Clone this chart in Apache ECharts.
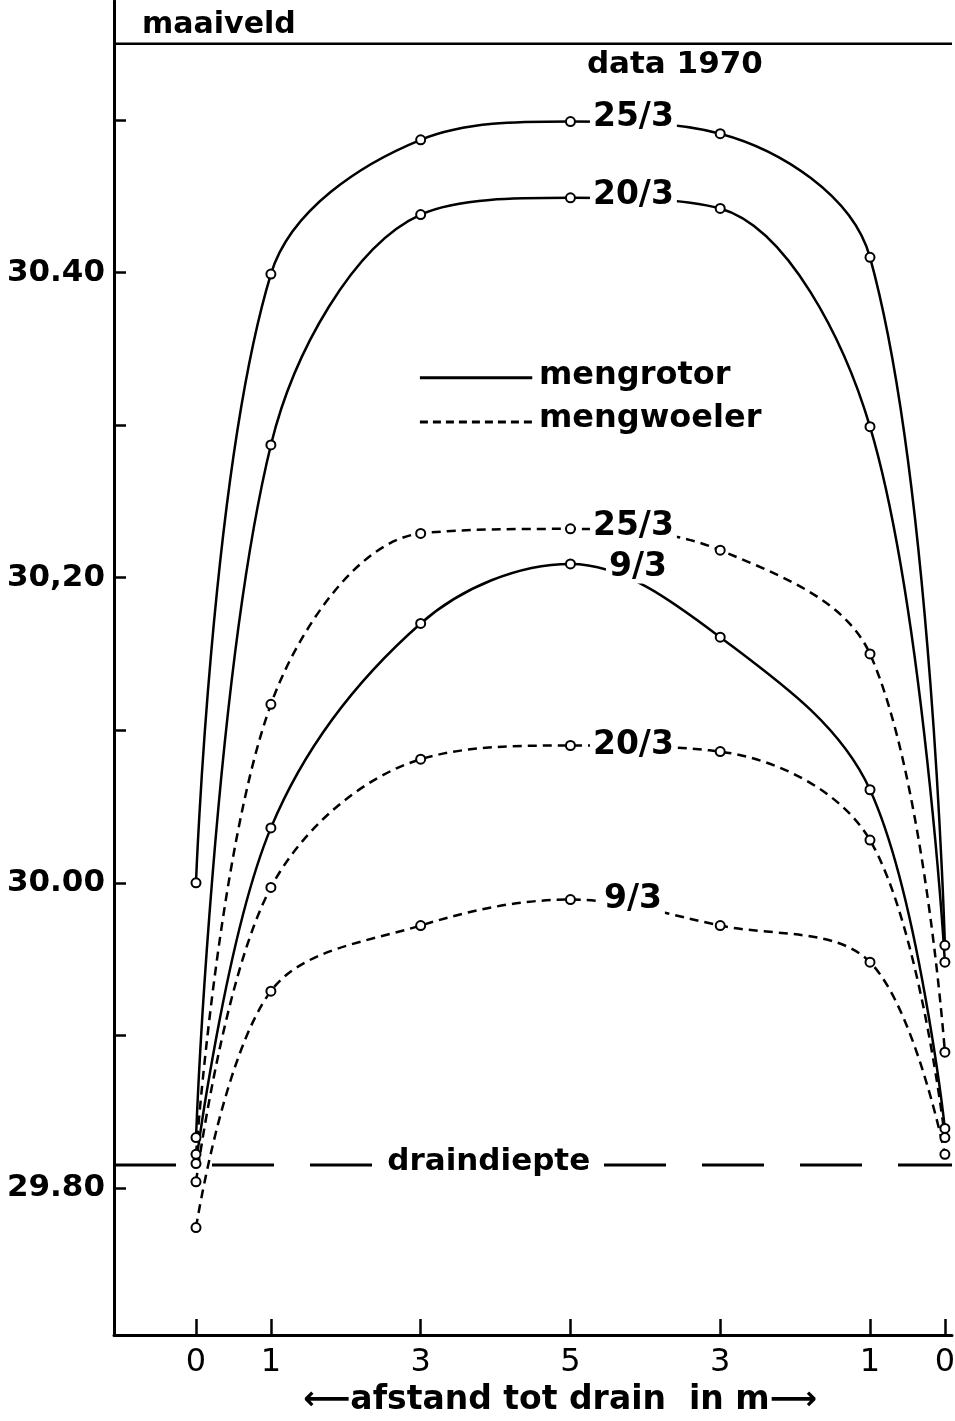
<!DOCTYPE html>
<html><head><meta charset="utf-8">
<script src="https://cdn.jsdelivr.net/npm/echarts@6/dist/echarts.min.js"></script>
<style>html,body{margin:0;padding:0;background:#fff}#c{width:955px;height:1421px}</style>
</head><body><div id="c"></div>
<script>
// ---- data ----
const xPositions = [0, 1, 3, 5, 7, 9, 10];
const xTickLabels = ['0', '1', '3', '5', '3', '1', '0'];
const yTickValues = [29.8, 29.9, 30.0, 30.1, 30.2, 30.3, 30.4, 30.5];
const yLabelValues = [29.8, 30.0, 30.2, 30.4];
const yLabelTexts = ['29.80', '30.00', '30,20', '30.40'];

const rotor_25_3 = [30.000, 30.399, 30.487, 30.499, 30.491, 30.410, 29.959];
const rotor_20_3 = [29.833, 30.287, 30.438, 30.449, 30.442, 30.299, 29.948];
const rotor_9_3  = [29.816, 30.036, 30.170, 30.209, 30.161, 30.061, 29.839];
const woeler_25_3 = [29.822, 30.117, 30.229, 30.232, 30.218, 30.150, 29.889];
const woeler_20_3 = [29.804, 29.997, 30.081, 30.090, 30.086, 30.028, 29.833];
const woeler_9_3  = [29.774, 29.929, 29.972, 29.989, 29.972, 29.948, 29.822];

const maaiveldLevel = 30.55;
const drainLevel = 29.815;
const xMin = -1.095, xMax = 10.095;
const yMin = 29.7036, yMax = 30.578;

const FONT = 'DejaVu Sans';

function findLabel(vals, texts, v) {
  for (let i = 0; i < vals.length; i++) if (Math.abs(vals[i] - v) < 1e-6) return texts[i];
  return '';
}

function mk(name, vals, dashed, labelText, dist, offY) {
  return {
    type: 'line', name: name, smooth: 0.35, symbol: 'circle', symbolSize: 9,
    animation: false, silent: true,
    lineStyle: { color: '#000', width: 2.5, type: dashed ? [9, 6] : 'solid' },
    itemStyle: { color: '#fff', borderColor: '#000', borderWidth: 2 },
    label: { show: false },
    data: xPositions.map(function (x, i) {
      if (i === 3) {
        return { value: [x, vals[i]], label: {
          show: true, position: 'right', distance: dist, formatter: labelText,
          backgroundColor: '#fff', padding: [0, 3], offset: [0, offY],
          fontSize: 33, fontWeight: 'bold', fontFamily: FONT, color: '#000' } };
      }
      return [x, vals[i]];
    }),
    z: 3
  };
}

const chart = echarts.init(document.getElementById('c'), null, { renderer: 'canvas' });

const series = [
  mk('mengrotor 25/3', rotor_25_3, false, '25/3', 14, -4),
  mk('mengrotor 20/3', rotor_20_3, false, '20/3', 14, -2),
  mk('mengrotor 9/3', rotor_9_3, false, '9/3', 30, 3),
  mk('mengwoeler 25/3', woeler_25_3, true, '25/3', 14, -2),
  mk('mengwoeler 20/3', woeler_20_3, true, '20/3', 14, 0),
  mk('mengwoeler 9/3', woeler_9_3, true, '9/3', 25, 0),
  { type: 'line', name: 'maaiveld', symbol: 'none', animation: false, silent: true,
    lineStyle: { color: '#000', width: 2.5 },
    data: [[xMin, maaiveldLevel], [xMax, maaiveldLevel]], z: 2 },
  { type: 'line', name: 'draindiepte', symbol: 'none', animation: false, silent: true,
    lineStyle: { color: '#000', width: 3, type: [62, 36] },
    data: [[xMin, drainLevel], [xMax, drainLevel]], z: 2 }
];

chart.setOption({
  backgroundColor: '#fff',
  animation: false,
  grid: { left: 114, right: 3, top: 1, bottom: 86, containLabel: false, outerBoundsMode: 'none' },
  xAxis: {
    type: 'value', min: xMin, max: xMax, position: 'bottom',
    axisLine: { show: true, onZero: false, lineStyle: { color: '#000', width: 3 } },
    axisTick: { show: true, inside: true, length: 16, customValues: xPositions, lineStyle: { color: '#000', width: 2.5 } },
    axisLabel: { show: true, customValues: xPositions, margin: 12, color: '#000', fontSize: 32, fontFamily: FONT,
      formatter: function (v) { return findLabel(xPositions, xTickLabels, v); } },
    splitLine: { show: false },
    name: '\u27F5afstand tot drain  in m\u27F6', nameLocation: 'middle', nameGap: 48,
    nameTextStyle: { color: '#000', fontSize: 33, fontWeight: 'bold', fontFamily: FONT, padding: [0, 0, 0, 54] }
  },
  yAxis: {
    type: 'value', min: yMin, max: yMax, position: 'left',
    axisLine: { show: true, onZero: false, lineStyle: { color: '#000', width: 3 } },
    axisTick: { show: true, inside: true, length: 12, customValues: yTickValues, lineStyle: { color: '#000', width: 2.5 } },
    axisLabel: { show: true, customValues: yLabelValues, margin: 9, color: '#000', fontSize: 31, fontWeight: 'bold', fontFamily: FONT,
      formatter: function (v) { return findLabel(yLabelValues, yLabelTexts, v); } },
    splitLine: { show: false }
  },
  series: series
});

// ---- annotations positioned through the chart's scales ----
const annot = {
  maaiveld: [-0.72, 30.562],
  data1970: [5.22, 30.536],
  legendRotorFrom: [2.99, 30.331], legendRotorTo: [4.49, 30.331],
  legendWoelerFrom: [2.99, 30.302], legendWoelerTo: [4.55, 30.302],
  legendTextX: 4.58,
  drainText: [2.42, drainLevel]
};
function px(p) { return chart.convertToPixel({ gridIndex: 0 }, p); }
const tStyle = function (text, size) {
  return { text: text, fill: '#000', font: 'bold ' + size + 'px "' + FONT + '"', textVerticalAlign: 'middle', textAlign: 'left' };
};
const pm = px(annot.maaiveld), pd = px(annot.data1970);
const r1 = px(annot.legendRotorFrom), r2 = px(annot.legendRotorTo);
const w1 = px(annot.legendWoelerFrom), w2 = px(annot.legendWoelerTo);
const lt1 = px([annot.legendTextX, annot.legendRotorFrom[1]]);
const lt2 = px([annot.legendTextX, annot.legendWoelerFrom[1]]);
const dt = px(annot.drainText);

chart.setOption({
  graphic: [
    { type: 'text', x: pm[0], y: pm[1], style: tStyle('maaiveld', 30), z: 10 },
    { type: 'text', x: pd[0], y: pd[1], style: tStyle('data 1970', 31), z: 10 },
    { type: 'line', shape: { x1: r1[0], y1: r1[1], x2: r2[0], y2: r2[1] }, style: { stroke: '#000', lineWidth: 3 }, z: 10 },
    { type: 'line', shape: { x1: w1[0], y1: w1[1], x2: w2[0], y2: w2[1] }, style: { stroke: '#000', lineWidth: 3, lineDash: [8, 5] }, z: 10 },
    { type: 'text', x: lt1[0], y: lt1[1] - 2, style: tStyle('mengrotor', 32), z: 10 },
    { type: 'text', x: lt2[0], y: lt2[1] - 3, style: tStyle('mengwoeler', 32), z: 10 },
    { type: 'text', x: dt[0], y: dt[1] - 3, style: Object.assign(tStyle('draindiepte', 31), { backgroundColor: '#fff', padding: [4, 10] }), z: 10 }
  ]
});
</script></body></html>
